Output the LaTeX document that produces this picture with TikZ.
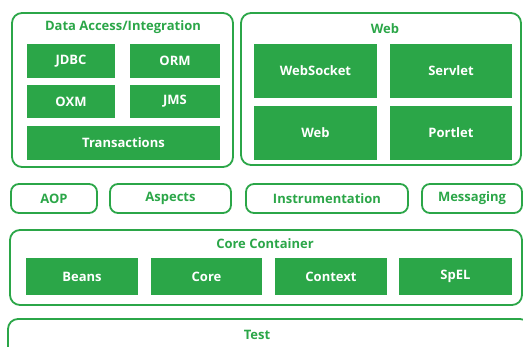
\documentclass[tikz,border=0pt]{standalone}
\usepackage{fontspec}
\setmainfont{Open Sans}
\usepackage{tikz}
\usetikzlibrary{positioning}
\definecolor{springgreen}{RGB}{43,166,72}

\begin{document}
\begin{tikzpicture}[x=1pt,y=-1pt,
  module/.style={fill=springgreen,text=white,font=\bfseries\fontsize{13}{15}\selectfont,inner sep=0pt},
  group/.style={draw=springgreen,line width=1.8pt,rounded corners=10pt,inner sep=0pt},
  pill/.style={draw=springgreen,line width=1.8pt,rounded corners=8pt,text=springgreen,font=\bfseries\fontsize{13}{15}\selectfont,inner sep=0pt,minimum height=29pt},
  grptitle/.style={text=springgreen,font=\bfseries\fontsize{13}{15}\selectfont,inner sep=0pt}]
\useasboundingbox (0,0) rectangle (523,347);
\clip (0,0) rectangle (523,347);

% Data Access/Integration
\node[group,minimum width=221pt,minimum height=154pt] (dataaccess) at (122.5,90) {};
\node[grptitle] (datatitle) at (123,27.5) {Data Access/Integration};
\node[module,minimum width=88pt,minimum height=34pt] (jdbc) at (71,61) {JDBC};
\node[module,minimum width=90pt,minimum height=34pt] (orm) at (175,61) {ORM};
\node[module,minimum width=88pt,minimum height=33pt] (oxm) at (71,101.5) {OXM};
\node[module,minimum width=90pt,minimum height=33pt] (jms) at (175,101.5) {JMS};
\node[module,minimum width=193pt,minimum height=34pt] (transactions) at (123.5,143) {Transactions};

% Web
\node[group,minimum width=280pt,minimum height=152pt] (webgroup) at (381,89) {};
\node[grptitle] (webtitle) at (385,29) {Web};
\node[module,minimum width=123pt,minimum height=54pt] (websocket) at (315.5,71) {WebSocket};
\node[module,minimum width=122pt,minimum height=54pt] (servlet) at (451,71) {Servlet};
\node[module,minimum width=123pt,minimum height=54pt] (web) at (315.5,133) {Web};
\node[module,minimum width=122pt,minimum height=54pt] (portlet) at (451,133) {Portlet};

% AOP, Aspects, Instrumentation, Messaging
\node[pill,minimum width=86pt] (aop) at (54,198.5) {AOP};
\node[pill,minimum width=121pt] (aspects) at (170.5,198.5) {Aspects};
\node[pill,minimum width=162pt] (instrumentation) at (327,198.5) {Instrumentation};
\node[pill,minimum width=100pt] (messaging) at (472,198.5) {Messaging};

% Core Container
\node[group,minimum width=512pt,minimum height=75pt] (corecontainer) at (266,267.5) {};
\node[grptitle] (coretitle) at (265,244) {Core Container};
\node[module,minimum width=112pt,minimum height=37pt] (beans) at (82,276.5) {Beans};
\node[module,minimum width=111pt,minimum height=37pt] (core) at (206.5,276.5) {Core};
\node[module,minimum width=112pt,minimum height=37pt] (context) at (331,276.5) {Context};
\node[module,minimum width=113pt,minimum height=37pt] (spel) at (455.5,276.5) {SpEL};

% Test
\node[group,minimum width=522pt,minimum height=52pt] (test) at (269,345) {};
\node[grptitle] (testtitle) at (257,335) {Test};
\end{tikzpicture}
\end{document}
